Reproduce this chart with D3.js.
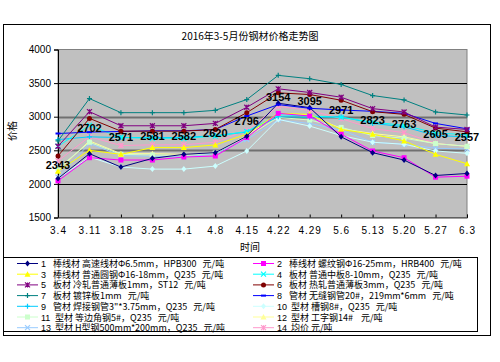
<!DOCTYPE html>
<html>
<head>
<meta charset="utf-8">
<script src="https://cdn.jsdelivr.net/npm/d3@7"></script>
<style>
  body { margin: 0; background: #fff; }
  text { font-family: "Liberation Sans", Arial, sans-serif; }
  .cjk { font-family: "Noto Sans CJK SC", sans-serif; }
</style>
</head>
<body>
<div id="chart"></div>
<script>
var width = 500,
    height = 362;

var dates = ["3.4", "3.11", "3.18", "3.25", "4.1", "4.8", "4.15", "4.22", "4.29", "5.6", "5.13", "5.20", "5.27", "6.3"];
var yTicks = [1500, 2000, 2500, 3000, 3500, 4000];

var s1 = [2080, 2450, 2250, 2380, 2440, 2465, 2710, 3200, 3135, 2700, 2465, 2355, 2125, 2155];
var s2 = [2045, 2390, 2355, 2355, 2400, 2415, 2690, 3050, 3010, 2740, 2490, 2390, 2100, 2115];
var s3 = [2190, 2500, 2440, 2540, 2540, 2580, 2740, 3050, 3035, 2810, 2740, 2640, 2440, 2300];
var s4 = [2560, 2870, 2690, 2680, 2680, 2710, 2780, 3030, 3010, 2990, 2920, 2870, 2760, 2730];
var s5 = [2560, 3075, 2865, 2865, 2865, 2900, 3140, 3415, 3360, 3290, 3120, 3070, 2845, 2810];
var s6 = [2415, 2975, 2785, 2785, 2785, 2810, 3060, 3355, 3330, 3245, 3075, 3035, 2830, 2775];
var s7 = [2640, 3270, 3060, 3060, 3060, 3095, 3255, 3615, 3565, 3480, 3315, 3250, 3070, 3025];
var s8 = [2750, 2770, 2780, 2790, 2790, 2810, 3010, 3180, 3125, 3100, 3080, 3050, 2900, 2820];
var s9 = [2660, 2700, 2690, 2690, 2690, 2720, 2770, 3000, 2990, 3000, 2900, 2850, 2720, 2700];
var s10 = [2080, 2400, 2250, 2220, 2220, 2265, 2490, 2960, 2860, 2720, 2620, 2590, 2490, 2455];
var s11 = [2230, 2620, 2440, 2430, 2420, 2460, 2700, 2990, 2950, 2840, 2720, 2680, 2600, 2560];
var s12 = [2200, 2640, 2450, 2450, 2440, 2465, 2720, 3040, 3030, 2820, 2750, 2700, 2600, 2560];
var s13 = [2100, 2600, 2420, 2410, 2400, 2450, 2660, 2950, 2900, 2800, 2620, 2590, 2530, 2520];
var avg = [2343, 2702, 2571, 2581, 2582, 2620, 2796, 3154, 3095, 2971, 2823, 2763, 2605, 2557];

var names = [
  "棒线材 高速线材Φ6.5mm，HPB300   元/吨",
  "棒线材 螺纹钢Φ16-25mm，HRB400   元/吨",
  "棒线材 普通圆钢Φ16-18mm，Q235   元/吨",
  "板材 普通中板8-10mm，Q235   元/吨",
  "板材 冷轧普通薄板1mm，ST12   元/吨",
  "板材 热轧普通薄板3mm，Q235   元/吨",
  "板材 镀锌板1mm   元/吨",
  "管材 无缝钢管20#，219mm*6mm   元/吨",
  "管材 焊接钢管3\"*3.75mm，Q235   元/吨",
  " 型材 槽钢8#，Q235   元/吨",
  " 型材 等边角钢5#，Q235   元/吨",
  " 型材 工字钢14#    元/吨",
  " 型材 H型钢500mm*200mm，Q235   元/吨",
  " 均价 元/吨"
];
var colors = ["#000080", "#FF00FF", "#FFFF00", "#00FFFF", "#800080", "#800000", "#008080",
              "#0000FF", "#00CCFF", "#CCFFFF", "#CCFFCC", "#FFFF99", "#99CCFF", "#FF99CC"];
var markers = ["diamond", "square", "triangle", "x", "star", "circle", "plus",
               "dash", "plus", "diamond", "square", "triangle", "x", "star"];

var series = [s1, s2, s3, s4, s5, s6, s7, s8, s9, s10, s11, s12, s13, avg].map(function(v, i) {
  return { id: i + 1, name: names[i], color: colors[i], marker: markers[i], values: v };
});

var svg = d3.select("#chart").append("svg")
    .attr("width", width)
    .attr("height", height);

// chart frame
svg.append("rect")
    .attr("x", 3.5).attr("y", 24.5)
    .attr("width", 487).attr("height", 311)
    .attr("fill", "#fff").attr("stroke", "#000");

var plotL = 58, plotR = 467, plotT = 49.5, plotB = 217.5;

var x = d3.scalePoint().domain(dates).range([plotL, plotR]).padding(0);
var y = d3.scaleLinear().domain([1500, 4000]).range([plotB, plotT]);

svg.append("rect")
    .attr("x", plotL).attr("y", plotT)
    .attr("width", plotR - plotL).attr("height", plotB - plotT)
    .attr("fill", "#C0C0C0").attr("stroke", "#808080");

// gridlines
svg.selectAll(".grid").data(yTicks.slice(1, -1))
  .enter().append("line")
    .attr("x1", plotL).attr("x2", plotR)
    .attr("y1", function(d) { return Math.round(y(d)) + 0.5; })
    .attr("y2", function(d) { return Math.round(y(d)) + 0.5; })
    .attr("stroke", function(d) { return (d == 3000 || d == 2500) ? "#707070" : "#000"; })
    .attr("stroke-width", function(d) { return (d == 3000 || d == 2500) ? 2 : 1; });

// axes
var yAxis = svg.append("g")
    .attr("transform", "translate(" + plotL + ",0)")
    .call(d3.axisLeft(y).tickValues(yTicks).tickFormat(d3.format("d")).tickSize(4).tickPadding(3));
yAxis.select(".domain").attr("stroke", "#000");
yAxis.selectAll("text").attr("font-size", 10).attr("fill", "#000");

var xAxis = svg.append("g")
    .attr("transform", "translate(0," + plotB + ")")
    .call(d3.axisBottom(x).tickSize(-3).tickPadding(9));
xAxis.select(".domain").attr("stroke", "#404040");
xAxis.selectAll("text").attr("font-size", 10).attr("fill", "#000").attr("letter-spacing", 1);

// titles
svg.append("text").attr("class", "cjk")
    .attr("x", 250).attr("y", 40)
    .attr("text-anchor", "middle").attr("font-size", 10)
    .text("2016年3-5月份钢材价格走势图");

svg.append("text").attr("class", "cjk")
    .attr("x", 250).attr("y", 251)
    .attr("text-anchor", "middle").attr("font-size", 10)
    .text("时间");

svg.append("text").attr("class", "cjk")
    .attr("transform", "translate(16,131) rotate(-90)")
    .attr("text-anchor", "middle").attr("font-size", 10)
    .text("价格");

// marker drawing
function drawMarker(g, type, color, px, py) {
  var s = 2.5;
  if (type == "diamond") {
    g.append("path").attr("d", "M" + px + "," + (py - s - 0.5) + "L" + (px + s) + "," + py + "L" + px + "," + (py + s + 0.5) + "L" + (px - s) + "," + py + "Z").attr("fill", color);
  } else if (type == "square") {
    g.append("rect").attr("x", px - s).attr("y", py - s).attr("width", 2 * s).attr("height", 2 * s).attr("fill", color);
  } else if (type == "triangle") {
    g.append("path").attr("d", "M" + px + "," + (py - s - 0.5) + "L" + (px + s + 0.5) + "," + (py + s) + "L" + (px - s - 0.5) + "," + (py + s) + "Z").attr("fill", color);
  } else if (type == "circle") {
    g.append("circle").attr("cx", px).attr("cy", py).attr("r", s).attr("fill", color);
  } else if (type == "dash") {
    g.append("line").attr("x1", px - s).attr("x2", px + s).attr("y1", py).attr("y2", py).attr("stroke", color).attr("stroke-width", 2);
  } else {
    var d = "";
    if (type == "x" || type == "star") d += "M" + (px - s) + "," + (py - s) + "L" + (px + s) + "," + (py + s) + "M" + (px - s) + "," + (py + s) + "L" + (px + s) + "," + (py - s);
    if (type == "plus") d += "M" + (px - s) + "," + py + "L" + (px + s) + "," + py;
    if (type == "plus" || type == "star") d += "M" + px + "," + (py - s) + "L" + px + "," + (py + s);
    g.append("path").attr("d", d).attr("stroke", color).attr("stroke-width", 1.2).attr("fill", "none");
  }
}

var line = d3.line()
    .x(function(d, i) { return x(dates[i]); })
    .y(function(d) { return y(d); });

// draw light series first so dark ones sit on top
var order = [13, 12, 11, 10, 9, 8, 3, 2, 1, 0, 7, 6, 5, 4];
order.forEach(function(k) {
  var s = series[k];
  var g = svg.append("g");
  g.append("path").attr("d", line(s.values))
      .attr("fill", "none").attr("stroke", s.color).attr("stroke-width", 1);
  s.values.forEach(function(v, i) {
    drawMarker(g, s.marker, s.color, x(dates[i]), y(v));
  });
});

// average labels
svg.selectAll(".lbl").data(avg)
  .enter().append("text")
    .attr("x", function(d, i) { return x(dates[i]); })
    .attr("y", function(d, i) { return y(d) + (i == 0 ? 8 : -5); })
    .attr("text-anchor", "middle")
    .attr("font-family", "Liberation Serif, serif")
    .attr("font-weight", "bold")
    .attr("font-size", 11)
    .attr("fill", "#000")
    .text(function(d) { return d; });

// legend
svg.append("rect")
    .attr("x", 3.5).attr("y", 257.5)
    .attr("width", 474).attr("height", 74)
    .attr("fill", "#fff").attr("stroke", "#000");

var leg = svg.selectAll(".leg").data(series)
  .enter().append("g")
    .attr("transform", function(d, i) {
      var col = i % 2, row = Math.floor(i / 2);
      return "translate(" + (col ? 253 : 17) + "," + (263.5 + row * 10.7) + ")";
    });

leg.each(function(d) {
  var g = d3.select(this);
  g.append("line").attr("x1", 0).attr("x2", 21).attr("y1", 0).attr("y2", 0)
      .attr("stroke", d.color).attr("stroke-width", 1);
  drawMarker(g, d.marker, d.color, 10.5, 0);
  g.append("text").attr("x", 24).attr("y", 3.5).attr("font-size", 9)
      .text(d.id);
  g.append("text").attr("class", "cjk").attr("x", 36).attr("y", 3.5).attr("font-size", 9)
      .attr("xml:space", "preserve").style("white-space", "pre")
      .text(d.name);
});
</script>
</body>
</html>
